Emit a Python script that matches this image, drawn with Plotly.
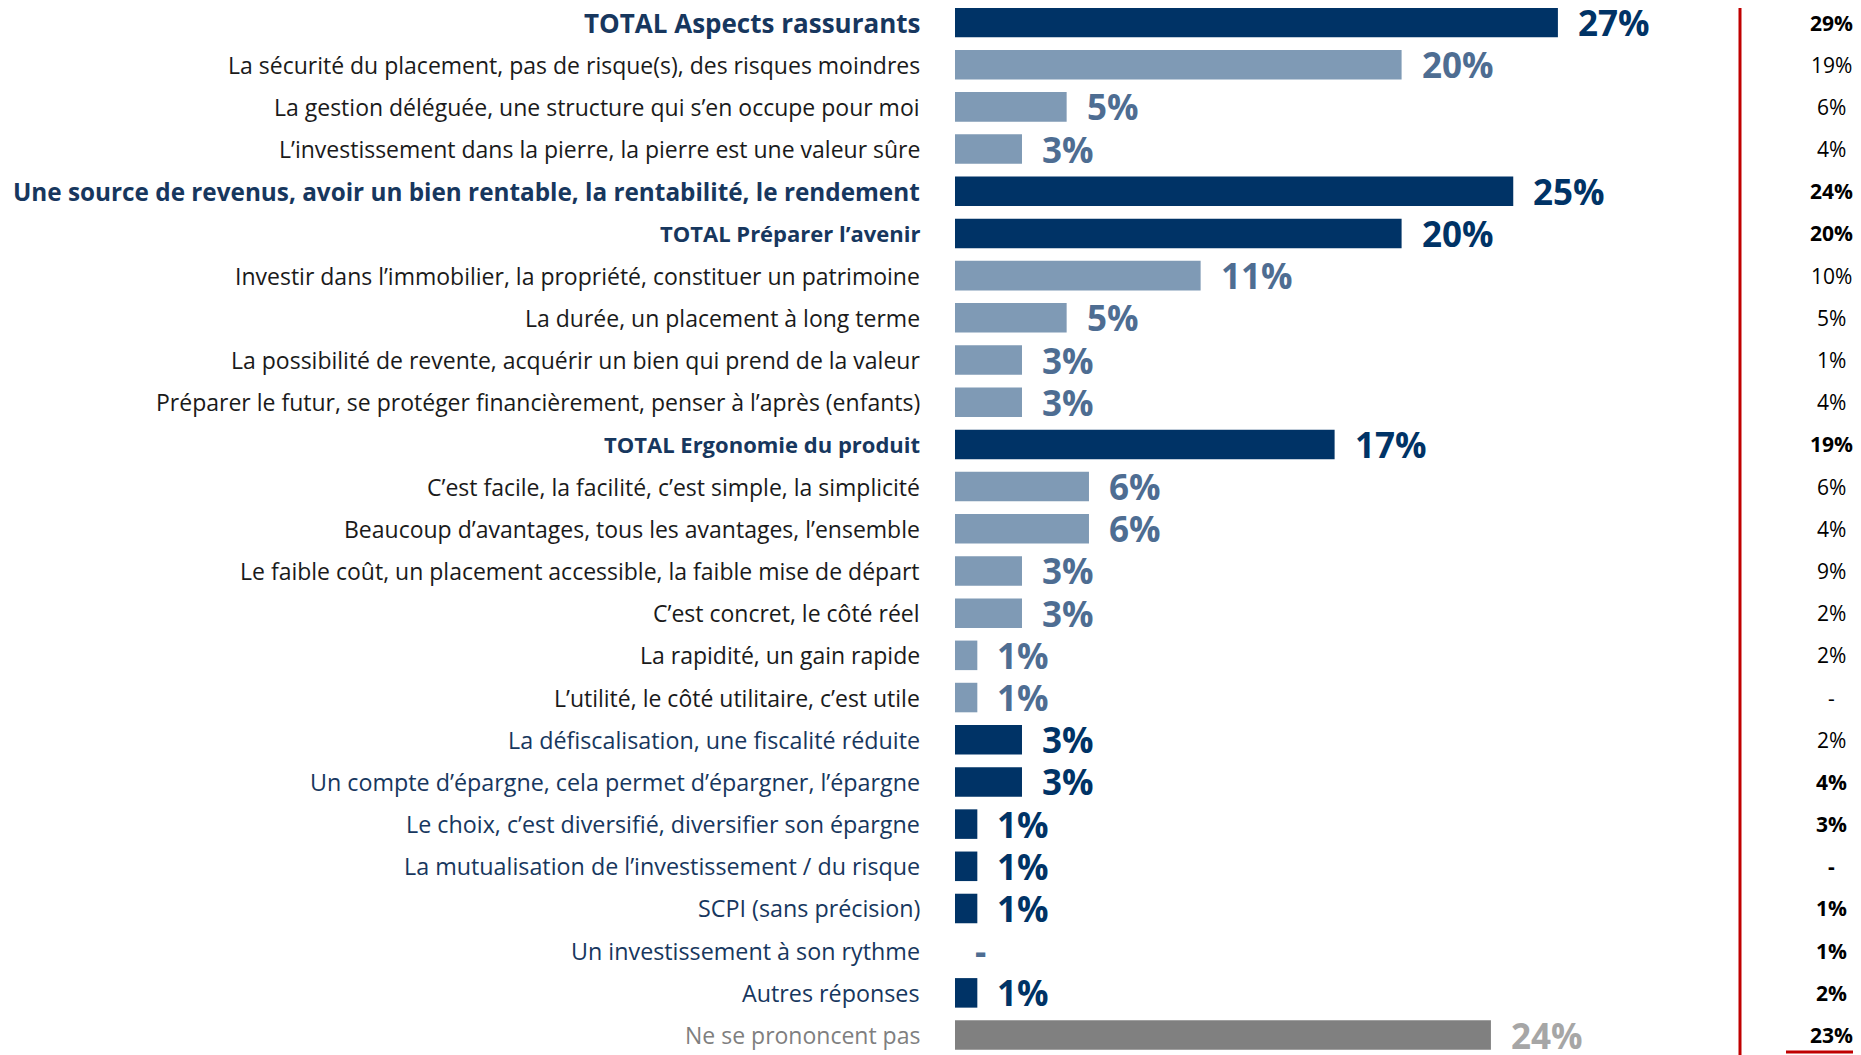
import plotly.graph_objects as go

labels = [
    "TOTAL Aspects rassurants",
    "La sécurité du placement, pas de risque(s), des risques moindres",
    "La gestion déléguée, une structure qui s’en occupe pour moi",
    "L’investissement dans la pierre, la pierre est une valeur sûre",
    "Une source de revenus, avoir un bien rentable, la rentabilité, le rendement",
    "TOTAL Préparer l’avenir",
    "Investir dans l’immobilier, la propriété, constituer un patrimoine",
    "La durée, un placement à long terme",
    "La possibilité de revente, acquérir un bien qui prend de la valeur",
    "Préparer le futur, se protéger financièrement, penser à l’après (enfants)",
    "TOTAL Ergonomie du produit",
    "C’est facile, la facilité, c’est simple, la simplicité",
    "Beaucoup d’avantages, tous les avantages, l’ensemble",
    "Le faible coût, un placement accessible, la faible mise de départ",
    "C’est concret, le côté réel",
    "La rapidité, un gain rapide",
    "L’utilité, le côté utilitaire, c’est utile",
    "La défiscalisation, une fiscalité réduite",
    "Un compte d’épargne, cela permet d’épargner, l’épargne",
    "Le choix, c’est diversifié, diversifier son épargne",
    "La mutualisation de l’investissement / du risque",
    "SCPI (sans précision)",
    "Un investissement à son rythme",
    "Autres réponses",
    "Ne se prononcent pas",
]
values = [27, 20, 5, 3, 25, 20, 11, 5, 3, 3, 17, 6, 6, 3, 3, 1, 1, 3, 3, 1, 1, 1, 0, 1, 24]
value_texts = ["27%", "20%", "5%", "3%", "25%", "20%", "11%", "5%", "3%", "3%", "17%", "6%", "6%",
               "3%", "3%", "1%", "1%", "3%", "3%", "1%", "1%", "1%", "-", "1%", "24%"]
kinds = ["total", "sub", "sub", "sub", "total", "total", "sub", "sub", "sub", "sub", "total",
         "sub", "sub", "sub", "sub", "sub", "sub", "item", "item", "item", "item", "item", "item",
         "item", "nsp"]
label_sizes = [26, 23, 23, 23, 24.3, 22, 23, 23, 23, 23, 22, 23, 23, 23, 23, 23, 23,
               23.3, 23.3, 23.3, 23.3, 23.3, 23.3, 23.3, 23]
compare_texts = ["29%", "19%", "6%", "4%", "24%", "20%", "10%", "5%", "1%", "4%", "19%", "6%", "4%",
                 "9%", "2%", "2%", "-", "2%", "4%", "3%", "-", "1%", "1%", "2%", "23%"]
compare_bold = [True, False, False, False, True, True, False, False, False, False, True, False, False,
                False, False, False, False, False, True, True, True, True, True, True, True]

NAVY = "#003366"
LIGHT = "#7F9AB5"
LIGHT_TXT = "#4E6D92"
GRAY = "#808080"
GRAY_TXT = "#A6A6A6"

bar_colors = {"total": NAVY, "sub": LIGHT, "item": NAVY, "nsp": GRAY}
val_colors = {"total": NAVY, "sub": LIGHT_TXT, "item": NAVY, "nsp": GRAY_TXT}
lab_colors = {"total": "#17375E", "sub": "#1A1A1A", "item": "#17375E", "nsp": "#7F7F7F"}

FONT = "Open Sans, sans-serif"

# the page body has an 8px margin: figure pixel = page pixel - 8
OFF = 8
W, H = 1861, 1055
ML = 955 - OFF
PLOT_RIGHT = 1740 - OFF
MR = W - PLOT_RIGHT
MT, MB = 0, OFF
plot_w = W - ML - MR
plot_h = H - MT - MB
PX_PER_PCT = 22.33
x_max = plot_w / PX_PER_PCT

ROW_PX = 42.19
first_row_center = 22.5 - OFF
y_top = -first_row_center / ROW_PX
y_bottom = y_top + plot_h / ROW_PX

fig = go.Figure()
fig.add_trace(go.Bar(
    x=values, y=labels, orientation="h",
    marker=dict(color=[bar_colors[k] for k in kinds], line=dict(width=0)),
    width=0.70, hoverinfo="skip",
))

annotations = []
for lab, v, vt, k, ls in zip(labels, values, value_texts, kinds, label_sizes):
    bold_lab = k == "total"
    annotations.append(dict(
        x=0, y=lab, xref="x", yref="y", xanchor="right", yanchor="middle",
        xshift=-33, showarrow=False,
        text=f"<b>{lab}</b>" if bold_lab else lab,
        font=dict(family=FONT, size=ls, color=lab_colors[k]),
    ))
    vcol = LIGHT_TXT if vt == "-" else val_colors[k]
    annotations.append(dict(
        x=v, y=lab, xref="x", yref="y", xanchor="left", yanchor="middle",
        xshift=18, showarrow=False,
        text=f"<b>{vt}</b>",
        font=dict(family=FONT, size=35, color=vcol),
    ))

col_x = (1831 - OFF - ML) / plot_w
for lab, ct, cb in zip(labels, compare_texts, compare_bold):
    annotations.append(dict(
        x=col_x, y=lab, xref="paper", yref="y", xanchor="center", yanchor="middle",
        showarrow=False,
        text=f"<b>{ct}</b>" if cb else ct,
        font=dict(family=FONT, size=21, color="#000000"),
    ))

shapes = [
    dict(type="line", xref="paper", yref="paper", x0=1, x1=1, y0=0, y1=1,
         line=dict(color="#C00000", width=3)),
    dict(type="line", xref="paper", yref="paper",
         x0=(1786 - OFF - ML) / plot_w, x1=(W - ML) / plot_w,
         y0=(plot_h - (1052 - OFF)) / plot_h, y1=(plot_h - (1052 - OFF)) / plot_h,
         line=dict(color="#C00000", width=3)),
]

fig.update_layout(
    width=W, height=H,
    margin=dict(l=ML, r=MR, t=MT, b=MB, pad=0),
    paper_bgcolor="white", plot_bgcolor="white",
    showlegend=False,
    xaxis=dict(range=[0, x_max], visible=False, fixedrange=True),
    yaxis=dict(range=[y_bottom, y_top], visible=False, type="category",
               categoryorder="array", categoryarray=labels, fixedrange=True),
    annotations=annotations,
    shapes=shapes,
)

fig.write_html("out.html", config={"displayModeBar": False})
